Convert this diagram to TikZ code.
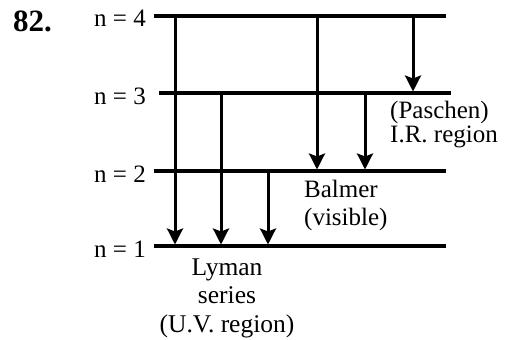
\documentclass[tikz,border=0pt]{standalone}
\usepackage{fontspec}
\setmainfont{Liberation Serif}
\usetikzlibrary{arrows.meta}
\begin{document}
\begin{tikzpicture}[x=1pt,y=-1pt,
  level/.style={line width=3.4pt},
  trans/.style={line width=3pt,-{Stealth[length=16pt,width=16pt,inset=3pt]},shorten >=1.5pt},
  lbl/.style={font=\fontsize{25}{29}\selectfont,inner sep=0pt},
  txt/.style={inner sep=0pt}]
\useasboundingbox (0,0) rectangle (506,340);
% levels
\coordinate (L4a) at (154,16);  \coordinate (L4b) at (446,16);
\coordinate (L3a) at (159,93);  \coordinate (L3b) at (451,93);
\coordinate (L2a) at (154,171); \coordinate (L2b) at (446,171);
\coordinate (L1a) at (154,246); \coordinate (L1b) at (446,246);
\draw[level] (L4a) -- (L4b);
\draw[level] (L3a) -- (L3b);
\draw[level] (L2a) -- (L2b);
\draw[level] (L1a) -- (L1b);
% labels
\node[font=\fontsize{31}{31}\selectfont\bfseries,inner sep=0pt,anchor=base west] (num) at (13,31.5) {82.};
\node[lbl,anchor=base east] (n4) at (146,27) {n = 4};
\node[lbl,anchor=base east] (n3) at (146,104) {n = 3};
\node[lbl,anchor=base east] (n2) at (146,182) {n = 2};
\node[lbl,anchor=base east] (n1) at (146,257) {n = 1};
% transition endpoints
\coordinate (a4) at (175,16);  \coordinate (a1) at (175,246);
\coordinate (b3) at (221,93);  \coordinate (b1) at (221,246);
\coordinate (c2) at (268,171); \coordinate (c1) at (268,246);
\coordinate (d4) at (317,16);  \coordinate (d2) at (317,171);
\coordinate (e3) at (365,93);  \coordinate (e2) at (365,171);
\coordinate (f4) at (413,16);  \coordinate (f3) at (413,93);
\draw[trans] (a4) -- (a1);
\draw[trans] (b3) -- (b1);
\draw[trans] (c2) -- (c1);
\draw[trans] (d4) -- (d2);
\draw[trans] (e3) -- (e2);
\draw[trans] (f4) -- (f3);
% series labels (base anchor = baseline of last line)
\node[txt,font=\fontsize{25}{24}\selectfont,align=left,anchor=base west] (pas) at (390,142) {(Paschen)\\I.R. region};
\node[txt,font=\fontsize{25}{28}\selectfont,align=left,anchor=base west] (bal) at (304,225) {Balmer\\(visible)};
\node[txt,font=\fontsize{25.5}{28.5}\selectfont,align=center,anchor=base] (lym) at (227,332) {Lyman\\series\\(U.V. region)};
\end{tikzpicture}
\end{document}
